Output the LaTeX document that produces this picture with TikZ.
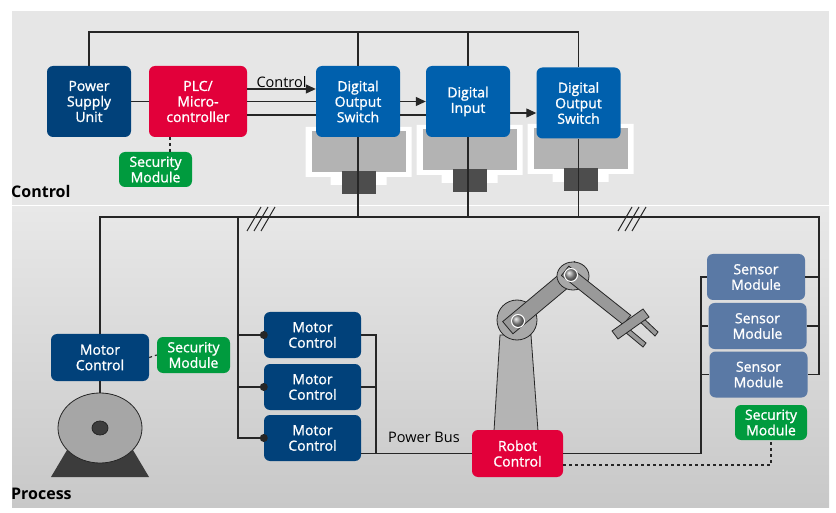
\documentclass[tikz,border=0pt]{standalone}
\usepackage{fontspec}
\setmainfont{Open Sans}
\newfontfamily\unitface{Open Sans}[UprightFeatures={FakeBold=1.2}]
\usetikzlibrary{arrows.meta}
\definecolor{ctrlgray}{HTML}{E6E6E6}
\definecolor{proctop}{HTML}{E8E8E8}
\definecolor{procbot}{HTML}{C8C8C8}
\definecolor{navyunit}{HTML}{01417A}
\definecolor{blueunit}{HTML}{0060AD}
\definecolor{redunit}{HTML}{E2003A}
\definecolor{greenunit}{HTML}{009B3E}
\definecolor{sensorunit}{HTML}{5A79A5}
\definecolor{wirecol}{HTML}{262626}
\definecolor{casegray}{HTML}{B3B3B3}
\definecolor{plugcol}{HTML}{4D4D4D}
\definecolor{motorgray}{HTML}{A6A6A6}
\definecolor{motorbase}{HTML}{3C3C3C}
\definecolor{robbase}{HTML}{B4B4B4}
\definecolor{robdisc}{HTML}{A8A8A8}
\definecolor{robarm}{HTML}{999999}
\newcommand{\unitfont}{\unitface\fontsize{14}{15.5}\selectfont}
\newcommand{\labelfont}{\fontsize{14.5}{16}\selectfont}
\newcommand{\zonefont}{\fontsize{16}{19}\selectfont\bfseries}
% I/O module housing: centre x, top y
\newcommand{\iohousing}[2]{%
  \fill[white] (#1-53,#2) -- (#1+53,#2) -- (#1+53,#2+50) -- (#1+28,#2+50) -- (#1+28,#2+58)
    -- (#1-28,#2+58) -- (#1-28,#2+50) -- (#1-53,#2+50) -- cycle;
  \fill[casegray] (#1-47,#2+4) rectangle (#1+47,#2+45);
  \fill[plugcol] (#1-17,#2+44) rectangle (#1+17,#2+67);
}
\tikzstyle{unit} = [rectangle, rounded corners=6pt, text=white, align=center,
    font=\unitfont, inner sep=1pt]
\tikzstyle{bigunit} = [unit, minimum width=84pt, minimum height=71pt]
\tikzstyle{smallunit} = [unit, minimum width=97pt, minimum height=46pt]
\tikzstyle{secbox} = [unit, fill=greenunit, minimum width=73pt, minimum height=35pt]
\tikzstyle{wire} = [draw=wirecol, line width=1.2pt]
\tikzstyle{sig} = [wire, -{Triangle[length=10pt,width=9pt]}]
\tikzstyle{secline} = [draw=wirecol, line width=1.2pt, dash pattern=on 3pt off 3pt]
\tikzstyle{armline} = [draw=wirecol, line width=0.8pt]

\begin{document}
\begin{tikzpicture}[x=1pt,y=-1pt]
\useasboundingbox (0,0) rectangle (836,513);
\fill[ctrlgray] (12,11) rectangle (829,205);
\shade[top color=proctop, bottom color=procbot] (12,207) rectangle (829,507);

\iohousing{358.5}{127}
\iohousing{469.5}{125}
\iohousing{580.5}{124}

\node[bigunit, fill=navyunit] (psu) at (89,101.5) {Power\\Supply\\Unit};
\node[bigunit, fill=redunit, minimum width=98pt] (plc) at (198,101.5) {PLC/\\Micro-\\controller};
\node[bigunit, fill=blueunit] (dout1) at (358,101.5) {Digital\\Output\\Switch};
\node[bigunit, fill=blueunit] (din) at (468,101.5) {Digital\\Input};
\node[bigunit, fill=blueunit] (dout2) at (578.5,103) {Digital\\Output\\Switch};
\node[secbox] (sec1) at (155.5,169.5) {Security\\Module};
\node[font=\zonefont, inner sep=0pt, anchor=west] (ctrllabel) at (11,192) {Control};

\coordinate (rail) at (88,32);
\coordinate (sigA) at (0,89);
\coordinate (sigC) at (0,115);
\coordinate (sigD) at (0,113);
\coordinate (sec1tap) at (170,0);
\coordinate (bus) at (819,217);

\draw[wire] (psu.north) |- (dout2.north |- rail) -- (dout2.north);
\draw[wire] (dout1.north) -- (dout1.north |- rail);
\draw[wire] (din.north) -- (din.north |- rail);
\draw[wire] (psu.east) -- (plc.west);
\draw[sig] (plc.east |- sigA) -- (dout1.west |- sigA)
    node[midway, above, font=\labelfont, inner sep=1pt] {Control};
\draw[wire] (plc.east) -- (dout1.west);
\draw[wire] (plc.east |- sigC) -- (dout1.west |- sigC);
\draw[sig] (dout1.east) -- (din.west);
\draw[wire] (dout1.east |- sigC) -- (din.west |- sigC);
\draw[sig] (din.east |- sigD) -- (dout2.west |- sigD);
\draw[secline] (plc.south -| sec1tap) -- (sec1.north -| sec1tap);
\foreach \n in {dout1,din,dout2}
    \draw[wire] (\n.south) -- (\n.south |- bus);

% motor
\fill[motorbase] (51,477) -- (149,477) -- (127,440) -- (73,440) -- cycle;
\draw[armline, fill=motorgray] (100,428) ellipse (42pt and 35pt);
\draw[armline, fill=motorbase] (100,428) ellipse (8pt and 7pt);
\coordinate (shaft) at (100,393);

% robot arm
\draw[armline, fill=robbase] (494,431) -- (500,335) -- (531,335) -- (538,431) -- cycle;
\draw[armline, fill=robdisc] (517,320) circle (20pt);
\draw[armline, fill=robarm] (512.9,333.8) -- (502.7,321.6) -- (574.6,261.5) -- (584.8,273.7) -- cycle;
\draw[armline, fill=robdisc] (573,276) ellipse (16pt and 14pt);
\draw[armline, fill=robarm] (561.4,275.5) -- (568.8,266.1) -- (630.7,315.3) -- (623.3,324.7) -- cycle;
\draw[armline, fill=robarm] (640,315) -- (637,319) -- (655,336) -- (658,332) -- cycle;
\draw[armline, fill=robarm] (628,328) -- (625,332) -- (643,347) -- (646,343) -- cycle;
\draw[armline, fill=robarm] (612,331) -- (618,339) -- (649,317) -- (643,309) -- cycle;
\foreach \p in {(518,321),(571,275)} {
    \shade[ball color=gray!80] \p circle (6pt);
    \draw[white, line width=1pt] \p circle (6.5pt);
}

\node[smallunit, fill=navyunit, minimum width=98pt, minimum height=47pt] (mc0) at (100,357.5) {Motor\\Control};
\node[secbox, minimum height=36pt] (sec2) at (193.5,355) {Security\\Module};
\node[smallunit, fill=navyunit] (mc1) at (312.5,335) {Motor\\Control};
\node[smallunit, fill=navyunit] (mc2) at (312.5,387) {Motor\\Control};
\node[smallunit, fill=navyunit] (mc3) at (312.5,438) {Motor\\Control};
\node[smallunit, fill=redunit, minimum width=91pt, minimum height=47pt] (robot) at (517.5,453.5) {Robot\\Control};
\node[smallunit, fill=sensorunit, minimum width=98pt] (sens1) at (756,277) {Sensor\\Module};
\node[smallunit, fill=sensorunit, minimum width=98pt] (sens2) at (757.5,326) {Sensor\\Module};
\node[smallunit, fill=sensorunit, minimum width=98pt] (sens3) at (758.5,374.5) {Sensor\\Module};
\node[secbox, minimum width=72pt] (sec3) at (771,422.5) {Security\\Module};
\node[font=\zonefont, inner sep=0pt, anchor=west] (proclabel) at (11,494) {Process};

\coordinate (mtap) at (238,217);
\coordinate (ptap) at (376,0);
\coordinate (stap) at (701,0);
\coordinate (dtap) at (0,465);

\draw[wire] (mc0.south) -- (shaft);
\draw[wire] (mc0.north) |- (bus) |- (sens3.east);
\draw[wire] (sens1.east) -- (sens1.east -| bus);
\draw[wire] (sens2.east) -- (sens2.east -| bus);
\draw[wire] (mtap) |- (mc3.west);
\foreach \n in {mc1,mc2}
    \draw[wire] (\n.west -| mtap) -- (\n.west);
\foreach \n in {mc1,mc2,mc3}
    \fill[wirecol] (\n.west) circle (4pt);
\draw[wire] (mc1.east) -| (ptap |- robot.west);
\draw[wire] (mc2.east) -- (mc2.east -| ptap);
\draw[wire] (mc3.east |- robot.west) -- (robot.west);
\node[font=\labelfont, text=black, anchor=south west, inner sep=0pt] (pbus) at (388,443) {Power Bus};
\draw[wire] (robot.east) -| (stap |- sens1.west) -- (sens1.west);
\draw[wire] (sens2.west -| stap) -- (sens2.west);
\draw[wire] (sens3.west -| stap) -- (sens3.west);
\draw[secline] (robot.east |- dtap) -| (sec3.south);
\draw[secline] (mc0.east) -- (sec2.west);

\foreach \x in {247,254,261}
    \draw[wirecol, line width=1pt] (\x,231) -- (\x+14,207);
\foreach \x in {618,625,632}
    \draw[wirecol, line width=1pt] (\x,231) -- (\x+14,207);
\end{tikzpicture}
\end{document}
